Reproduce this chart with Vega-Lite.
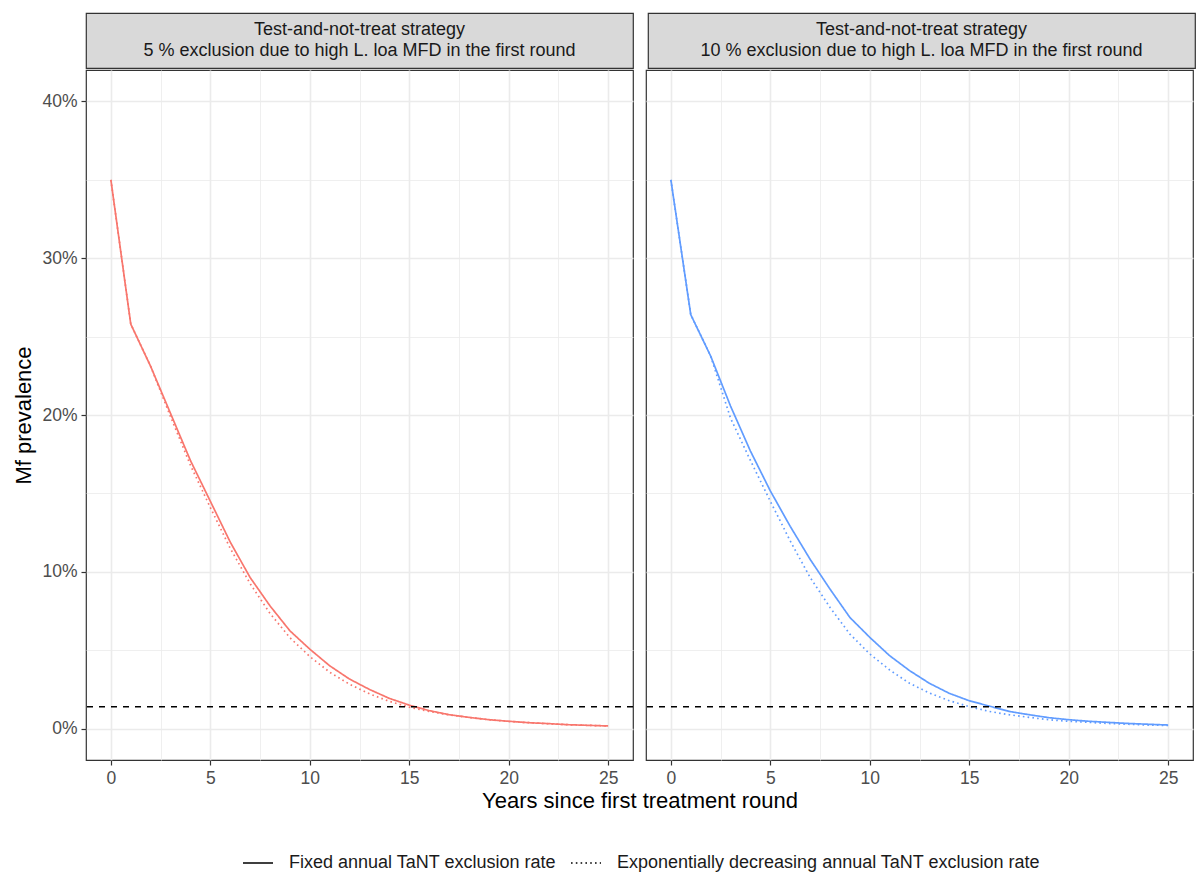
{
  "$schema": "https://vega.github.io/schema/vega-lite/v6.json",
  "background": "white",
  "padding": {"left": 12, "top": 12, "right": 5, "bottom": 5},
  "config": {
    "font": "Liberation Sans",
    "view": {"stroke": "#333333", "strokeWidth": 1.2},
    "axis": {
      "domain": false,
      "gridColor": "#EBEBEB",
      "tickColor": "#333333",
      "tickSize": 5,
      "tickWidth": 1.2,
      "labelColor": "#4D4D4D",
      "labelFontSize": 17.5,
      "labelPadding": 4,
      "titleFontSize": 22,
      "titleColor": "black",
      "titleFontWeight": "normal"
    }
  },
  "datasets": {
    "prev": [
      {"panel": "p5", "scenario": "Fixed annual TaNT exclusion rate", "year": 0, "prev": 0.350},
      {"panel": "p5", "scenario": "Fixed annual TaNT exclusion rate", "year": 1, "prev": 0.258},
      {"panel": "p5", "scenario": "Fixed annual TaNT exclusion rate", "year": 2, "prev": 0.231},
      {"panel": "p5", "scenario": "Fixed annual TaNT exclusion rate", "year": 3, "prev": 0.201},
      {"panel": "p5", "scenario": "Fixed annual TaNT exclusion rate", "year": 4, "prev": 0.171},
      {"panel": "p5", "scenario": "Fixed annual TaNT exclusion rate", "year": 5, "prev": 0.145},
      {"panel": "p5", "scenario": "Fixed annual TaNT exclusion rate", "year": 6, "prev": 0.119},
      {"panel": "p5", "scenario": "Fixed annual TaNT exclusion rate", "year": 7, "prev": 0.0964},
      {"panel": "p5", "scenario": "Fixed annual TaNT exclusion rate", "year": 8, "prev": 0.0783},
      {"panel": "p5", "scenario": "Fixed annual TaNT exclusion rate", "year": 9, "prev": 0.0624},
      {"panel": "p5", "scenario": "Fixed annual TaNT exclusion rate", "year": 10, "prev": 0.0507},
      {"panel": "p5", "scenario": "Fixed annual TaNT exclusion rate", "year": 11, "prev": 0.0401},
      {"panel": "p5", "scenario": "Fixed annual TaNT exclusion rate", "year": 12, "prev": 0.0316},
      {"panel": "p5", "scenario": "Fixed annual TaNT exclusion rate", "year": 13, "prev": 0.0250},
      {"panel": "p5", "scenario": "Fixed annual TaNT exclusion rate", "year": 14, "prev": 0.0193},
      {"panel": "p5", "scenario": "Fixed annual TaNT exclusion rate", "year": 15, "prev": 0.0150},
      {"panel": "p5", "scenario": "Fixed annual TaNT exclusion rate", "year": 16, "prev": 0.0115},
      {"panel": "p5", "scenario": "Fixed annual TaNT exclusion rate", "year": 17, "prev": 0.0089},
      {"panel": "p5", "scenario": "Fixed annual TaNT exclusion rate", "year": 18, "prev": 0.0072},
      {"panel": "p5", "scenario": "Fixed annual TaNT exclusion rate", "year": 19, "prev": 0.0057},
      {"panel": "p5", "scenario": "Fixed annual TaNT exclusion rate", "year": 20, "prev": 0.0047},
      {"panel": "p5", "scenario": "Fixed annual TaNT exclusion rate", "year": 21, "prev": 0.0038},
      {"panel": "p5", "scenario": "Fixed annual TaNT exclusion rate", "year": 22, "prev": 0.0032},
      {"panel": "p5", "scenario": "Fixed annual TaNT exclusion rate", "year": 23, "prev": 0.0025},
      {"panel": "p5", "scenario": "Fixed annual TaNT exclusion rate", "year": 24, "prev": 0.0021},
      {"panel": "p5", "scenario": "Fixed annual TaNT exclusion rate", "year": 25, "prev": 0.0017},
      {"panel": "p5", "scenario": "Exponentially decreasing annual TaNT exclusion rate", "year": 0, "prev": 0.350},
      {"panel": "p5", "scenario": "Exponentially decreasing annual TaNT exclusion rate", "year": 1, "prev": 0.258},
      {"panel": "p5", "scenario": "Exponentially decreasing annual TaNT exclusion rate", "year": 2, "prev": 0.231},
      {"panel": "p5", "scenario": "Exponentially decreasing annual TaNT exclusion rate", "year": 3, "prev": 0.199},
      {"panel": "p5", "scenario": "Exponentially decreasing annual TaNT exclusion rate", "year": 4, "prev": 0.168},
      {"panel": "p5", "scenario": "Exponentially decreasing annual TaNT exclusion rate", "year": 5, "prev": 0.141},
      {"panel": "p5", "scenario": "Exponentially decreasing annual TaNT exclusion rate", "year": 6, "prev": 0.115},
      {"panel": "p5", "scenario": "Exponentially decreasing annual TaNT exclusion rate", "year": 7, "prev": 0.0925},
      {"panel": "p5", "scenario": "Exponentially decreasing annual TaNT exclusion rate", "year": 8, "prev": 0.0735},
      {"panel": "p5", "scenario": "Exponentially decreasing annual TaNT exclusion rate", "year": 9, "prev": 0.0580},
      {"panel": "p5", "scenario": "Exponentially decreasing annual TaNT exclusion rate", "year": 10, "prev": 0.0460},
      {"panel": "p5", "scenario": "Exponentially decreasing annual TaNT exclusion rate", "year": 11, "prev": 0.0360},
      {"panel": "p5", "scenario": "Exponentially decreasing annual TaNT exclusion rate", "year": 12, "prev": 0.0283},
      {"panel": "p5", "scenario": "Exponentially decreasing annual TaNT exclusion rate", "year": 13, "prev": 0.0222},
      {"panel": "p5", "scenario": "Exponentially decreasing annual TaNT exclusion rate", "year": 14, "prev": 0.0174},
      {"panel": "p5", "scenario": "Exponentially decreasing annual TaNT exclusion rate", "year": 15, "prev": 0.0137},
      {"panel": "p5", "scenario": "Exponentially decreasing annual TaNT exclusion rate", "year": 16, "prev": 0.0110},
      {"panel": "p5", "scenario": "Exponentially decreasing annual TaNT exclusion rate", "year": 17, "prev": 0.0088},
      {"panel": "p5", "scenario": "Exponentially decreasing annual TaNT exclusion rate", "year": 18, "prev": 0.0071},
      {"panel": "p5", "scenario": "Exponentially decreasing annual TaNT exclusion rate", "year": 19, "prev": 0.0057},
      {"panel": "p5", "scenario": "Exponentially decreasing annual TaNT exclusion rate", "year": 20, "prev": 0.0046},
      {"panel": "p5", "scenario": "Exponentially decreasing annual TaNT exclusion rate", "year": 21, "prev": 0.0038},
      {"panel": "p5", "scenario": "Exponentially decreasing annual TaNT exclusion rate", "year": 22, "prev": 0.0031},
      {"panel": "p5", "scenario": "Exponentially decreasing annual TaNT exclusion rate", "year": 23, "prev": 0.0025},
      {"panel": "p5", "scenario": "Exponentially decreasing annual TaNT exclusion rate", "year": 24, "prev": 0.0021},
      {"panel": "p5", "scenario": "Exponentially decreasing annual TaNT exclusion rate", "year": 25, "prev": 0.0017},
      {"panel": "p10", "scenario": "Fixed annual TaNT exclusion rate", "year": 0, "prev": 0.350},
      {"panel": "p10", "scenario": "Fixed annual TaNT exclusion rate", "year": 1, "prev": 0.264},
      {"panel": "p10", "scenario": "Fixed annual TaNT exclusion rate", "year": 2, "prev": 0.2376},
      {"panel": "p10", "scenario": "Fixed annual TaNT exclusion rate", "year": 3, "prev": 0.2057},
      {"panel": "p10", "scenario": "Fixed annual TaNT exclusion rate", "year": 4, "prev": 0.177},
      {"panel": "p10", "scenario": "Fixed annual TaNT exclusion rate", "year": 5, "prev": 0.1516},
      {"panel": "p10", "scenario": "Fixed annual TaNT exclusion rate", "year": 6, "prev": 0.129},
      {"panel": "p10", "scenario": "Fixed annual TaNT exclusion rate", "year": 7, "prev": 0.108},
      {"panel": "p10", "scenario": "Fixed annual TaNT exclusion rate", "year": 8, "prev": 0.089},
      {"panel": "p10", "scenario": "Fixed annual TaNT exclusion rate", "year": 9, "prev": 0.0709},
      {"panel": "p10", "scenario": "Fixed annual TaNT exclusion rate", "year": 10, "prev": 0.0582},
      {"panel": "p10", "scenario": "Fixed annual TaNT exclusion rate", "year": 11, "prev": 0.0465},
      {"panel": "p10", "scenario": "Fixed annual TaNT exclusion rate", "year": 12, "prev": 0.0370},
      {"panel": "p10", "scenario": "Fixed annual TaNT exclusion rate", "year": 13, "prev": 0.0289},
      {"panel": "p10", "scenario": "Fixed annual TaNT exclusion rate", "year": 14, "prev": 0.0225},
      {"panel": "p10", "scenario": "Fixed annual TaNT exclusion rate", "year": 15, "prev": 0.0178},
      {"panel": "p10", "scenario": "Fixed annual TaNT exclusion rate", "year": 16, "prev": 0.0144},
      {"panel": "p10", "scenario": "Fixed annual TaNT exclusion rate", "year": 17, "prev": 0.0110},
      {"panel": "p10", "scenario": "Fixed annual TaNT exclusion rate", "year": 18, "prev": 0.0089},
      {"panel": "p10", "scenario": "Fixed annual TaNT exclusion rate", "year": 19, "prev": 0.0070},
      {"panel": "p10", "scenario": "Fixed annual TaNT exclusion rate", "year": 20, "prev": 0.0057},
      {"panel": "p10", "scenario": "Fixed annual TaNT exclusion rate", "year": 21, "prev": 0.0047},
      {"panel": "p10", "scenario": "Fixed annual TaNT exclusion rate", "year": 22, "prev": 0.0040},
      {"panel": "p10", "scenario": "Fixed annual TaNT exclusion rate", "year": 23, "prev": 0.0033},
      {"panel": "p10", "scenario": "Fixed annual TaNT exclusion rate", "year": 24, "prev": 0.0028},
      {"panel": "p10", "scenario": "Fixed annual TaNT exclusion rate", "year": 25, "prev": 0.0023},
      {"panel": "p10", "scenario": "Exponentially decreasing annual TaNT exclusion rate", "year": 0, "prev": 0.350},
      {"panel": "p10", "scenario": "Exponentially decreasing annual TaNT exclusion rate", "year": 1, "prev": 0.264},
      {"panel": "p10", "scenario": "Exponentially decreasing annual TaNT exclusion rate", "year": 2, "prev": 0.2376},
      {"panel": "p10", "scenario": "Exponentially decreasing annual TaNT exclusion rate", "year": 3, "prev": 0.198},
      {"panel": "p10", "scenario": "Exponentially decreasing annual TaNT exclusion rate", "year": 4, "prev": 0.171},
      {"panel": "p10", "scenario": "Exponentially decreasing annual TaNT exclusion rate", "year": 5, "prev": 0.145},
      {"panel": "p10", "scenario": "Exponentially decreasing annual TaNT exclusion rate", "year": 6, "prev": 0.1197},
      {"panel": "p10", "scenario": "Exponentially decreasing annual TaNT exclusion rate", "year": 7, "prev": 0.0964},
      {"panel": "p10", "scenario": "Exponentially decreasing annual TaNT exclusion rate", "year": 8, "prev": 0.0773},
      {"panel": "p10", "scenario": "Exponentially decreasing annual TaNT exclusion rate", "year": 9, "prev": 0.0603},
      {"panel": "p10", "scenario": "Exponentially decreasing annual TaNT exclusion rate", "year": 10, "prev": 0.0476},
      {"panel": "p10", "scenario": "Exponentially decreasing annual TaNT exclusion rate", "year": 11, "prev": 0.0374},
      {"panel": "p10", "scenario": "Exponentially decreasing annual TaNT exclusion rate", "year": 12, "prev": 0.0289},
      {"panel": "p10", "scenario": "Exponentially decreasing annual TaNT exclusion rate", "year": 13, "prev": 0.0227},
      {"panel": "p10", "scenario": "Exponentially decreasing annual TaNT exclusion rate", "year": 14, "prev": 0.0178},
      {"panel": "p10", "scenario": "Exponentially decreasing annual TaNT exclusion rate", "year": 15, "prev": 0.0140},
      {"panel": "p10", "scenario": "Exponentially decreasing annual TaNT exclusion rate", "year": 16, "prev": 0.0110},
      {"panel": "p10", "scenario": "Exponentially decreasing annual TaNT exclusion rate", "year": 17, "prev": 0.0089},
      {"panel": "p10", "scenario": "Exponentially decreasing annual TaNT exclusion rate", "year": 18, "prev": 0.0072},
      {"panel": "p10", "scenario": "Exponentially decreasing annual TaNT exclusion rate", "year": 19, "prev": 0.0057},
      {"panel": "p10", "scenario": "Exponentially decreasing annual TaNT exclusion rate", "year": 20, "prev": 0.0047},
      {"panel": "p10", "scenario": "Exponentially decreasing annual TaNT exclusion rate", "year": 21, "prev": 0.0040},
      {"panel": "p10", "scenario": "Exponentially decreasing annual TaNT exclusion rate", "year": 22, "prev": 0.0033},
      {"panel": "p10", "scenario": "Exponentially decreasing annual TaNT exclusion rate", "year": 23, "prev": 0.0028},
      {"panel": "p10", "scenario": "Exponentially decreasing annual TaNT exclusion rate", "year": 24, "prev": 0.0023},
      {"panel": "p10", "scenario": "Exponentially decreasing annual TaNT exclusion rate", "year": 25, "prev": 0.0020}
    ],
    "strips": [
      {"panel": "p5", "label": "Test-and-not-treat strategy\n5 % exclusion due to high L. loa MFD in the first round"},
      {"panel": "p10", "label": "Test-and-not-treat strategy\n10 % exclusion due to high L. loa MFD in the first round"}
    ],
    "thr": [{"threshold": 0.014}]
  },
  "spacing": 0,
  "resolve": {"scale": {"strokeDash": "shared"}, "legend": {"strokeDash": "shared"}},
  "vconcat": [
    {
      "spacing": 13,
      "hconcat": [
        {
          "width": 547, "height": 55,
          "view": {"fill": "#D9D9D9", "stroke": "#333333", "strokeWidth": 1.2},
          "data": {"name": "strips"},
          "transform": [{"filter": "datum.panel == 'p5'"}],
          "mark": {"type": "text", "fontSize": 18, "color": "#1A1A1A", "lineBreak": "\n", "lineHeight": 21, "dy": -10.5, "align": "center", "baseline": "middle"},
          "encoding": {"text": {"field": "label", "type": "nominal"}}
        },
        {
          "width": 547, "height": 55,
          "view": {"fill": "#D9D9D9", "stroke": "#333333", "strokeWidth": 1.2},
          "data": {"name": "strips"},
          "transform": [{"filter": "datum.panel == 'p10'"}],
          "mark": {"type": "text", "fontSize": 18, "color": "#1A1A1A", "lineBreak": "\n", "lineHeight": 21, "dy": -10.5, "align": "center", "baseline": "middle"},
          "encoding": {"text": {"field": "label", "type": "nominal"}}
        }
      ]
    },
    {
      "spacing": 13,
      "bounds": "flush",
      "hconcat": [
        {
          "width": 547, "height": 690,
          "layer": [
            {
              "data": {"name": "prev"},
              "transform": [{"filter": "datum.panel == 'p5'"}],
              "mark": {"type": "line", "strokeWidth": 1.7, "color": "#F8766D"},
              "encoding": {
                "x": {"field": "year", "type": "quantitative",
                  "scale": {"domain": [-1.25, 26.25], "nice": false, "zero": false},
                  "axis": {"values": [0, 2.5, 5, 7.5, 10, 12.5, 15, 17.5, 20, 22.5, 25],
                    "labelExpr": "datum.value % 5 == 0 ? datum.label : ''",
                    "title": "Years since first treatment round", "titleX": 553.5, "titleAlign": "center",
                    "gridWidth": {"condition": {"test": "datum.value % 5 == 0", "value": 1.6}, "value": 0.8},
                    "tickOpacity": {"condition": {"test": "datum.value % 5 == 0", "value": 1}, "value": 0}}},
                "y": {"field": "prev", "type": "quantitative",
                  "scale": {"domain": [-0.02, 0.42], "nice": false, "zero": false},
                  "axis": {"values": [0, 0.05, 0.1, 0.15, 0.2, 0.25, 0.3, 0.35, 0.4], "format": ".0%",
                    "labelExpr": "round(datum.value * 100) % 10 == 0 ? datum.label : ''",
                    "title": "Mf prevalence", "titlePadding": 6,
                    "gridWidth": {"condition": {"test": "round(datum.value * 100) % 10 == 0", "value": 1.6}, "value": 0.8},
                    "tickOpacity": {"condition": {"test": "round(datum.value * 100) % 10 == 0", "value": 1}, "value": 0}}},
                "strokeDash": {"field": "scenario", "type": "nominal",
                  "scale": {"domain": ["Fixed annual TaNT exclusion rate", "Exponentially decreasing annual TaNT exclusion rate"], "range": [[1, 0], [1.6, 3.2]]},
                  "legend": {"title": null, "orient": "none", "legendX": 156, "legendY": 834, "direction": "horizontal", "symbolType": "stroke",
                    "symbolStrokeColor": "black", "symbolStrokeWidth": 1.6, "symbolSize": 900,
                    "labelFontSize": 18, "labelColor": "#1A1A1A", "labelLimit": 0, "labelOffset": 15, "columnPadding": 10}}
              }
            },
            {
              "data": {"name": "thr"},
              "mark": {"type": "rule", "color": "black", "strokeDash": [6, 6], "strokeWidth": 1.6},
              "encoding": {"y": {"field": "threshold", "type": "quantitative"}}
            }
          ]
        },
        {
          "width": 547, "height": 690,
          "layer": [
            {
              "data": {"name": "prev"},
              "transform": [{"filter": "datum.panel == 'p10'"}],
              "mark": {"type": "line", "strokeWidth": 1.7, "color": "#619CFF"},
              "encoding": {
                "x": {"field": "year", "type": "quantitative",
                  "scale": {"domain": [-1.25, 26.25], "nice": false, "zero": false},
                  "axis": {"values": [0, 2.5, 5, 7.5, 10, 12.5, 15, 17.5, 20, 22.5, 25],
                    "labelExpr": "datum.value % 5 == 0 ? datum.label : ''",
                    "title": null,
                    "gridWidth": {"condition": {"test": "datum.value % 5 == 0", "value": 1.6}, "value": 0.8},
                    "tickOpacity": {"condition": {"test": "datum.value % 5 == 0", "value": 1}, "value": 0}}},
                "y": {"field": "prev", "type": "quantitative",
                  "scale": {"domain": [-0.02, 0.42], "nice": false, "zero": false},
                  "axis": {"values": [0, 0.05, 0.1, 0.15, 0.2, 0.25, 0.3, 0.35, 0.4],
                    "labels": false, "ticks": false, "title": null,
                    "gridWidth": {"condition": {"test": "round(datum.value * 100) % 10 == 0", "value": 1.6}, "value": 0.8}}},
                "strokeDash": {"field": "scenario", "type": "nominal",
                  "scale": {"domain": ["Fixed annual TaNT exclusion rate", "Exponentially decreasing annual TaNT exclusion rate"], "range": [[1, 0], [1.6, 3.2]]},
                  "legend": {"title": null, "orient": "none", "legendX": 156, "legendY": 834, "direction": "horizontal", "symbolType": "stroke",
                    "symbolStrokeColor": "black", "symbolStrokeWidth": 1.6, "symbolSize": 900,
                    "labelFontSize": 18, "labelColor": "#1A1A1A", "labelLimit": 0, "labelOffset": 15, "columnPadding": 10}}
              }
            },
            {
              "data": {"name": "thr"},
              "mark": {"type": "rule", "color": "black", "strokeDash": [6, 6], "strokeWidth": 1.6},
              "encoding": {"y": {"field": "threshold", "type": "quantitative"}}
            }
          ]
        }
      ]
    }
  ]
}
